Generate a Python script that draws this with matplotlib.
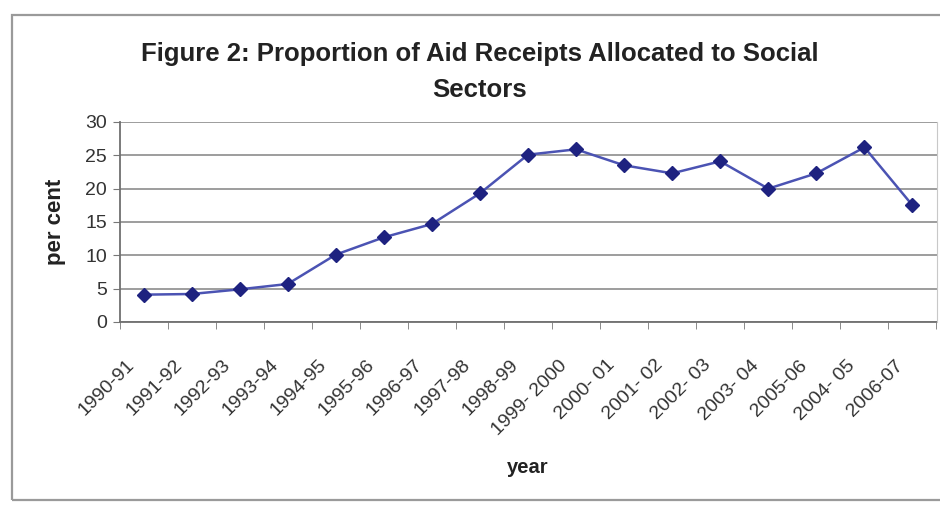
import numpy as np
import matplotlib
matplotlib.use("Agg")
import matplotlib.pyplot as plt
import matplotlib.transforms as mtransforms
from matplotlib.patches import Rectangle

# data
years = ["1990-91", "1991-92", "1992-93", "1993-94", "1994-95", "1995-96",
         "1996-97", "1997-98", "1998-99", "1999- 2000", "2000- 01", "2001- 02",
         "2002- 03", "2003- 04", "2005-06", "2004- 05", "2006-07"]
share = [4.1, 4.2, 4.9, 5.7, 10.1, 12.7, 14.7, 19.3, 25.1, 25.9, 23.5, 22.3,
         24.1, 20.0, 22.3, 26.2, 17.5]

plt.rcParams['font.family'] = ['Liberation Sans', 'DejaVu Sans']

W, H = 940, 508
fig = plt.figure(figsize=(W / 100, H / 100), dpi=100)
fig.patch.set_facecolor('white')

# outer chart border
fig.patches.append(Rectangle((12 / W, 1 - 500 / H), 940 / W, 485 / H,
                             transform=fig.transFigure, fill=False,
                             edgecolor='#9a9a9a', linewidth=1.6))

left, right, top, bottom = 119.5, 936.5, 122, 322
ax = fig.add_axes([left / W, 1 - bottom / H, (right - left) / W, (bottom - top) / H])

x = np.arange(len(years))
ax.plot(x, share, color='#4b53b3', linewidth=1.8, marker='D', markersize=7.5,
        markerfacecolor='#1e2280', markeredgecolor='#1e2280', zorder=3)

ax.set_xlim(-0.5, len(years) - 0.5)
ax.set_ylim(0, 30)
ax.set_yticks(range(0, 31, 5))
ax.yaxis.grid(True, color='#8c8c8c', linewidth=1.2)
ax.set_axisbelow(True)

ax.set_xticks(x)
ax.set_xticks(np.arange(-0.5, len(years), 1), minor=True)
ax.tick_params(axis='x', which='major', length=0, pad=25)
ax.tick_params(axis='x', which='minor', length=5, color='#777777')
ax.tick_params(axis='y', length=5, color='#777777', labelsize=14,
               labelcolor='#333333', pad=4)
ax.set_xticklabels(years, rotation=45, ha='right', rotation_mode='anchor',
                   fontsize=14, color='#333333')
# nudge the slanted labels left, after tick_params so it is not reset
shift = mtransforms.ScaledTranslation(-18 / 100, 0, fig.dpi_scale_trans)
for lab in ax.get_xticklabels():
    lab.set_transform(lab.get_transform() + shift)

for s in ['left', 'bottom']:
    ax.spines[s].set_color('#707070')
    ax.spines[s].set_linewidth(1.3)
ax.spines['top'].set_visible(False)
ax.spines['right'].set_color('#c8c8c8')

ax.set_ylabel("per cent", fontsize=16, fontweight='bold', color='#222222', labelpad=14)
ax.set_xlabel("year", fontsize=14.5, fontweight='bold', color='#222222', labelpad=14)

fig.text(480 / W, 1 - 54 / H, "Figure 2: Proportion of Aid Receipts Allocated to Social",
         ha='center', va='center', fontsize=18.5, fontweight='bold', color='#222222')
fig.text(480 / W, 1 - 90 / H, "Sectors", ha='center', va='center',
         fontsize=18.5, fontweight='bold', color='#222222')

fig.savefig("out.png", dpi=100)
